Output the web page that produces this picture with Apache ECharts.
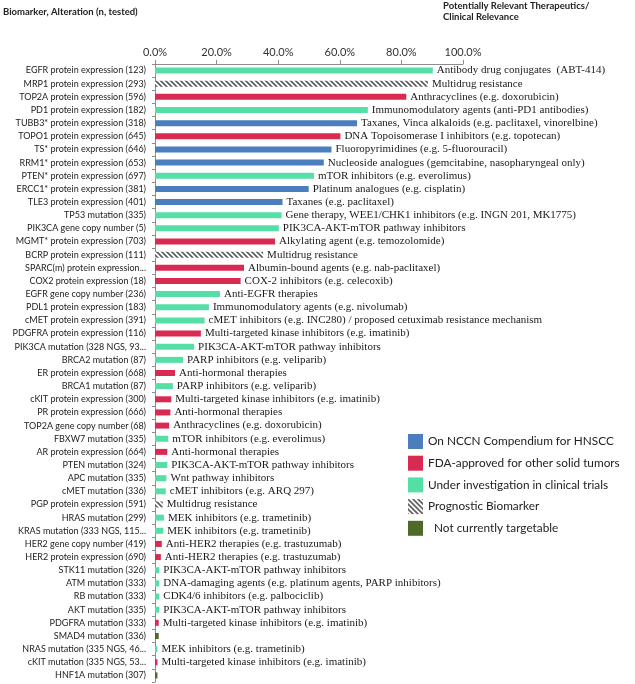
<!DOCTYPE html>
<html>
<head>
<meta charset="utf-8">
<script src="https://cdn.jsdelivr.net/npm/echarts@6/dist/echarts.min.js"></script>
<style>
html,body{margin:0;padding:0;background:#fff;}
#chart{width:635px;height:684px;}
</style>
</head>
<body>
<div id="chart"></div>
<script>
const categories = [
  'EGFR protein expression (123)',
  'MRP1 protein expression (293)',
  'TOP2A protein expression (596)',
  'PD1 protein expression (182)',
  'TUBB3* protein expression (318)',
  'TOPO1 protein expression (645)',
  'TS* protein expression (646)',
  'RRM1* protein expression (653)',
  'PTEN* protein expression (697)',
  'ERCC1* protein expression (381)',
  'TLE3 protein expression (401)',
  'TP53 mutation (335)',
  'PIK3CA gene copy number (5)',
  'MGMT* protein expression (703)',
  'BCRP protein expression (111)',
  'SPARC(m) protein expression...',
  'COX2 protein expression (18)',
  'EGFR gene copy number (236)',
  'PDL1 protein expression (183)',
  'cMET protein expression (391)',
  'PDGFRA protein expression (116)',
  'PIK3CA mutation (328 NGS, 93...',
  'BRCA2 mutation (87)',
  'ER protein expression (668)',
  'BRCA1 mutation (87)',
  'cKIT protein expression (300)',
  'PR protein expression (666)',
  'TOP2A gene copy number (68)',
  'FBXW7 mutation (335)',
  'AR protein expression (664)',
  'PTEN mutation (324)',
  'APC mutation (335)',
  'cMET mutation (336)',
  'PGP protein expression (591)',
  'HRAS mutation (299)',
  'KRAS mutation (333 NGS, 115...',
  'HER2 gene copy number (419)',
  'HER2 protein expression (690)',
  'STK11 mutation (326)',
  'ATM mutation (333)',
  'RB mutation (333)',
  'AKT mutation (335)',
  'PDGFRA mutation (333)',
  'SMAD4 mutation (336)',
  'NRAS mutation (335 NGS, 46...',
  'cKIT mutation (335 NGS, 53...',
  'HNF1A mutation (307)'
];

const values = [
  90.2, 88.6, 81.6, 69.1, 65.6, 60.2, 57.3, 54.8, 51.6, 49.9,
  41.4, 41.1, 40.2, 39.0, 35.1, 28.9, 27.8, 21.1, 17.5, 16.1,
  14.9, 12.7, 9.1, 6.5, 5.8, 5.3, 5.0, 4.6, 4.3, 4.0,
  4.0, 3.7, 3.5, 2.5, 2.9, 2.7, 2.2, 1.9, 1.4, 1.4,
  1.4, 1.4, 1.2, 1.2, 0.8, 0.8, 0.8
];

const kinds = [
  'trial', 'prog', 'fda', 'trial', 'nccn', 'fda', 'nccn', 'nccn', 'trial', 'nccn',
  'nccn', 'trial', 'trial', 'fda', 'prog', 'fda', 'fda', 'trial', 'trial', 'trial',
  'fda', 'trial', 'trial', 'fda', 'trial', 'fda', 'fda', 'fda', 'trial', 'fda',
  'trial', 'trial', 'trial', 'prog', 'trial', 'trial', 'fda', 'fda', 'trial', 'trial',
  'trial', 'trial', 'fda', 'none', 'trial', 'fda', 'none'
];

const notes = [
  'Antibody drug conjugates  (ABT-414)',
  'Multidrug resistance',
  'Anthracyclines (e.g. doxorubicin)',
  'Immunomodulatory agents (anti-PD1 antibodies)',
  'Taxanes, Vinca alkaloids (e.g. paclitaxel, vinorelbine)',
  'DNA Topoisomerase I inhibitors (e.g. topotecan)',
  'Fluoropyrimidines (e.g. 5-fluorouracil)',
  'Nucleoside analogues (gemcitabine, nasopharyngeal only)',
  'mTOR inhibitors (e.g. everolimus)',
  'Platinum analogues (e.g. cisplatin)',
  'Taxanes (e.g. paclitaxel)',
  'Gene therapy, WEE1/CHK1 inhibitors (e.g. INGN 201, MK1775)',
  'PIK3CA-AKT-mTOR pathway inhibitors',
  'Alkylating agent (e.g. temozolomide)',
  'Multidrug resistance',
  'Albumin-bound agents (e.g. nab-paclitaxel)',
  'COX-2 inhibitors (e.g. celecoxib)',
  'Anti-EGFR therapies',
  'Immunomodulatory agents (e.g. nivolumab)',
  'cMET inhibitors (e.g. INC280) / proposed cetuximab resistance mechanism',
  'Multi-targeted kinase inhibitors (e.g. imatinib)',
  'PIK3CA-AKT-mTOR pathway inhibitors',
  'PARP inhibitors (e.g. veliparib)',
  'Anti-hormonal therapies',
  'PARP inhibitors (e.g. veliparib)',
  'Multi-targeted kinase inhibitors (e.g. imatinib)',
  'Anti-hormonal therapies',
  'Anthracyclines (e.g. doxorubicin)',
  'mTOR inhibitors (e.g. everolimus)',
  'Anti-hormonal therapies',
  'PIK3CA-AKT-mTOR pathway inhibitors',
  'Wnt pathway inhibitors',
  'cMET inhibitors (e.g. ARQ 297)',
  'Multidrug resistance',
  'MEK inhibitors (e.g. trametinib)',
  'MEK inhibitors (e.g. trametinib)',
  'Anti-HER2 therapies (e.g. trastuzumab)',
  'Anti-HER2 therapies (e.g. trastuzumab)',
  'PIK3CA-AKT-mTOR pathway inhibitors',
  'DNA-damaging agents (e.g. platinum agents, PARP inhibitors)',
  'CDK4/6 inhibitors (e.g. palbociclib)',
  'PIK3CA-AKT-mTOR pathway inhibitors',
  'Multi-targeted kinase inhibitors (e.g. imatinib)',
  '',
  'MEK inhibitors (e.g. trametinib)',
  'Multi-targeted kinase inhibitors (e.g. imatinib)',
  ''
];

const kindOrder = ['nccn', 'fda', 'trial', 'prog', 'none'];
const kindNames = {
  nccn: 'On NCCN Compendium for HNSCC',
  fda: 'FDA-approved for other solid tumors',
  trial: 'Under investigation in clinical trials',
  prog: 'Prognostic Biomarker',
  none: 'Not currently targetable'
};
const tickValues = [0, 20, 40, 60, 80, 100];

// hatch pattern for prognostic biomarkers
function hatch() {
  const c = document.createElement('canvas');
  c.width = 5; c.height = 5;
  const g = c.getContext('2d');
  g.fillStyle = '#ffffff';
  g.fillRect(0, 0, 5, 5);
  g.strokeStyle = '#5a5a5a';
  g.lineWidth = 1.6;
  g.beginPath();
  g.moveTo(-1, -1); g.lineTo(6, 6);
  g.moveTo(-1, 4); g.lineTo(1, 6);
  g.moveTo(4, -1); g.lineTo(6, 1);
  g.stroke();
  return c;
}
const kindColors = {
  nccn: '#4A7EBF',
  fda: '#D92A52',
  trial: '#55DFA6',
  prog: { image: hatch(), repeat: 'repeat' },
  none: '#4F6A26'
};

const chart = echarts.init(document.getElementById('chart'), null, { renderer: 'canvas' });

const series = kindOrder.map(k => ({
  name: kindNames[k],
  type: 'bar',
  stack: 'all',
  barWidth: 6,
  itemStyle: { color: kindColors[k] },
  data: values.map((v, i) => kinds[i] === k ? v : '-'),
  label: {
    show: true,
    position: 'right',
    distance: 4,
    formatter: p => notes[p.dataIndex],
    fontFamily: 'Liberation Serif',
    fontSize: 11,
    color: '#1a1a1a'
  },
  emphasis: { disabled: true }
}));

chart.setOption({
  animation: false,
  backgroundColor: '#ffffff',
  title: [
    {
      text: 'Biomarker, Alteration (n, tested)',
      left: 3, top: 7, padding: 0,
      textStyle: { fontFamily: 'Lato', fontSize: 9.5, fontWeight: 'bold', color: '#222' }
    },
    {
      text: 'Potentially Relevant Therapeutics/\nClinical Relevance',
      left: 443, top: 0, padding: 0,
      textStyle: { fontFamily: 'Lato', fontSize: 9.5, fontWeight: 'bold', color: '#222', lineHeight: 11.6 }
    }
  ],
  legend: {
    orient: 'vertical',
    left: 403,
    top: 429,
    itemWidth: 15,
    itemHeight: 15,
    itemGap: 6.7,
    icon: 'rect',
    selectedMode: false,
    data: kindOrder.map(k => kindNames[k]),
    formatter: n => n === kindNames.none ? '  ' + n : n,
    textStyle: { fontFamily: 'Lato', fontSize: 11.8, color: '#222' }
  },
  grid: { left: 155, right: 172, top: 64, bottom: 2, containLabel: false },
  xAxis: {
    type: 'value',
    position: 'top',
    min: tickValues[0],
    max: tickValues[tickValues.length - 1],
    interval: 20,
    axisLine: { show: true, lineStyle: { color: '#8c8c8c' } },
    axisTick: { show: true, length: 4, lineStyle: { color: '#8c8c8c' } },
    splitLine: { show: false },
    axisLabel: {
      formatter: v => v.toFixed(1) + '%',
      fontFamily: 'Lato', fontSize: 11, color: '#333', margin: 6
    }
  },
  yAxis: {
    type: 'category',
    inverse: true,
    data: categories,
    axisLine: { show: true, lineStyle: { color: '#8c8c8c' } },
    axisTick: { show: true, length: 3, lineStyle: { color: '#8c8c8c' } },
    axisLabel: {
      fontFamily: 'Lato', fontSize: 9, color: '#222', margin: 9, interval: 0
    }
  },
  series: series
});
</script>
</body>
</html>
